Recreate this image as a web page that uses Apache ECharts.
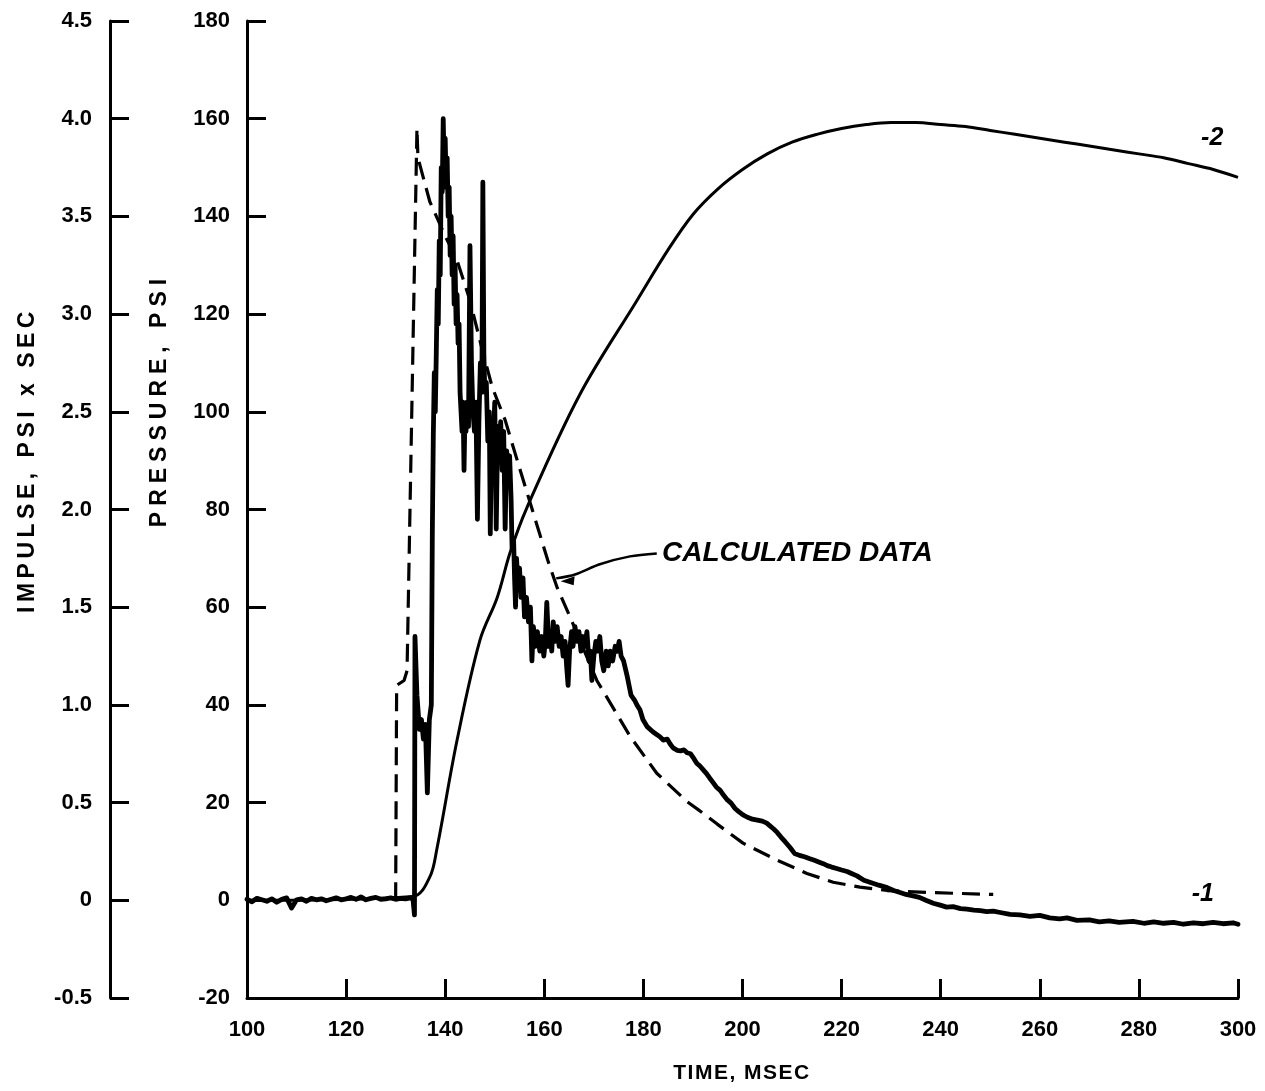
<!DOCTYPE html>
<html>
<head>
<meta charset="utf-8">
<script src="https://cdn.jsdelivr.net/npm/echarts@6/dist/echarts.min.js"></script>
<style>
html,body{margin:0;padding:0;background:#fff;}
#chart{width:1265px;height:1091px;}
</style>
</head>
<body>
<div id="chart"></div>
<script>
// ---- axis ticks ----
const timeTicks = [100,120,140,160,180,200,220,240,260,280,300];
const pressureTicks = [-20,0,20,40,60,80,100,120,140,160,180];
const impulseTicks = [-0.5,0,0.5,1.0,1.5,2.0,2.5,3.0,3.5,4.0,4.5];

// ---- axis titles and notes ----
const impulseTitle = 'IMPULSE, PSI x SEC';
const pressureTitle = 'PRESSURE, PSI';
const timeTitle = 'TIME, MSEC';
const calcNote = 'CALCULATED DATA';
const curve2Note = '-2';
const curve1Note = '-1';

// ---- measured pressure (psi) vs time (msec) ----
const measTime = [
100,101,102,103,104,105,106,107,108,109,110,111,112,113,114,115,116,117,118,119,
120,121,122,123,124,125,126,127,128,129,130,131,132,133,133.5,
133.8,133.9,134.3,134.8,135.2,135.6,136.0,136.4,136.8,137.2,137.4,137.6,137.8,138.0,138.2,138.4,
138.6,138.8,139.0,139.2,139.4,139.6,139.8,140.0,140.2,140.4,140.6,140.8,141.0,141.2,141.4,141.6,
141.8,142.0,142.2,142.4,142.6,142.8,143.0,143.2,143.4,143.6,143.8,144.0,144.2,144.4,144.7,145.0,
145.3,145.6,145.9,146.2,146.5,146.8,147.1,147.4,147.6,147.8,148.0,148.3,148.6,148.9,149.1,149.4,
149.7,150.0,150.3,150.6,150.9,151.2,151.5,151.8,152.1,152.4,152.7,153.0,153.3,153.5,153.8,154.0,
154.2,154.4,154.7,155.0,155.3,155.7,156.0,156.4,156.8,157.2,157.5,157.8,158.2,158.6,159.1,159.5,
159.9,160.2,160.5,160.9,161.2,161.5,161.8,162.2,162.6,163.0,163.4,163.8,164.2,164.5,164.8,165.1,
165.5,165.8,166.2,166.6,167.0,167.4,167.8,168.2,168.6,169.0,169.3,169.6,170.0,170.4,170.8,171.2,
171.6,172.0,172.5,172.9,173.3,173.8,174.3,174.7,175.1,175.5,176.0,176.7,177.5,178.2,178.7,179.3,
179.9,180.8,181.9,182.6,183.3,184.0,184.8,185.4,186.0,186.8,187.5,188.2,188.8,189.5,190.2,190.8,
191.4,192.0,192.7,193.4,194.0,194.7,195.5,196.2,196.9,197.7,198.5,199.3,200.1,201.0,202.0,203.0,
204.0,204.9,205.6,206.3,207.0,207.8,208.6,209.6,210.5,211.5,212.5,213.6,214.5,215.5,216.3,217.1,
218.0,219.0,220.0,221.1,222.0,223.1,224.5,226.0,227.5,229.2,230.5,231.8,233.0,234.4,235.7,237.0,
238.5,239.9,241.2,242.5,244.0,245.3,246.7,248.0,249.3,250.6,252.0,254.0,256.0,258.0,260.0,262.0,
264.0,265.5,267.5,270.0,272.0,274.0,276.0,278.8,281.0,283.0,285.0,287.0,289.0,291.0,293.0,295.0,
297.0,299.0,300.0
];
const measPressure = [
0.2,-0.3,0.4,0.1,-0.2,0.3,-0.4,0.2,0.5,-1.6,0.1,0.3,-0.2,0.4,0.1,0.3,-0.1,0.2,0.5,0.1,
0.3,0.6,0.2,0.7,0.1,0.4,0.6,0.2,0.3,0.5,0.2,0.4,0.3,0.5,0.2,
-3,54,42,35,37,33,36,22,37,40,75,95,108,100,112,125,
118,135,128,150,145,160,150,156,146,152,140,146,132,140,128,136,
122,130,118,124,114,118,104,100,96,102,88,100,96,102,97,134,
110,100,96,102,78,98,110,104,147,112,104,106,94,100,75,98,
94,102,76,97,93,98,88,96,76,92,88,91,82,72,74,66,
60,70,64,68,62,66,58,62,57,60,49,56,52,55,51,54,
50,53,61,52,55,51,57,53,56,52,54,50,53,48,44,51,
55,52,56,53,55,51,54,52,55,49,51,45,50,53,51,54,
49,47,51,48,51,49,52,51,53,50,49,46,42,41,40,39,
37,35.5,34.5,34,33.5,32.8,33,32,31.2,30.7,30.6,30.8,30.2,30,29,28,
27.5,26.8,26,25,24.2,23.2,22.5,21.5,20.6,19.9,18.8,18.1,17.5,17,16.6,16.4,
16.2,15.8,15.2,14.6,13.9,12.9,12,10.8,9.6,9.2,8.9,8.5,8.2,7.8,7.5,7.1,
6.8,6.5,6.2,5.9,5.5,5.0,4.1,3.6,3.1,2.6,2.0,1.6,1.2,0.9,0.6,0,
-0.6,-1.0,-1.4,-1.3,-1.7,-1.8,-2.0,-2.1,-2.3,-2.2,-2.5,-2.9,-3.0,-3.3,-3.1,-3.6,
-3.8,-3.6,-4.1,-4.0,-4.4,-4.2,-4.5,-4.3,-4.7,-4.4,-4.7,-4.5,-4.9,-4.6,-4.8,-4.5,
-4.8,-4.6,-4.9
];

// ---- calculated pressure (dashed) ----
const calcTime = [130,130.2,131.7,132.3,134.3,134.5,136.9,140,142.4,145,147.4,149.5,152.1,154.7,157.5,
  160.7,162.6,165.2,170.6,177.3,182.7,188.8,191.4,194.9,200.1,207.0,213.0,218.3,223.7,229.2,237.2,250.6];
const calcPressure = [0,44,45,47,158,152,143,136,131,122.8,113,105,98.3,89.5,80.2,
  69.6,64,58,45,33.6,26,20.2,18.3,15.6,11.7,8.2,5.5,3.7,2.7,2.0,1.6,1.2];

// ---- impulse (psi x sec) ----
const impTime = [100,133.5,136.9,138.3,142.4,147.0,150.5,153.1,156.5,167.2,178.7,185,190,195,200,205,210,215,220,225,
  230,235,240,245,250,255,260,265,270,275,280,285,290,295,300];
const impulse = [0,0.02,0.12,0.26,0.82,1.33,1.55,1.78,2.01,2.59,3.07,3.33,3.51,3.64,3.74,3.82,3.88,3.92,3.95,3.97,
  3.98,3.98,3.97,3.96,3.94,3.92,3.90,3.88,3.86,3.84,3.82,3.80,3.77,3.74,3.70];

// ---- annotation anchors (data coords: time, pressure) ----
const calcLabelAt = [183.75, 71.0];
const leaderLine = [[182.7,71.0],[177.3,70.4],[171.2,68.8],[166.2,66.7],[162.4,65.9]];
const arrowTipAt = [163.3, 65.3];
const label2At = [294.8, 156.0];
const label1At = [292.9, 1.2];

// letter spacing (px) of the original lettering of the axis titles
const titleSpacing = {};
titleSpacing[impulseTitle] = 4.5;
titleSpacing[pressureTitle] = 6;
titleSpacing[timeTitle] = 1.5;

(function () {
  const proto = CanvasRenderingContext2D.prototype;
  const orig = proto.fillText;
  function refreshFont(ctx) { const f = ctx.font; ctx.font = '10px serif'; ctx.font = f; }
  proto.fillText = function (t, x, y, w) {
    const call = () => (w === undefined ? orig.call(this, t, x, y) : orig.call(this, t, x, y, w));
    if (Object.prototype.hasOwnProperty.call(titleSpacing, t) && 'letterSpacing' in this) {
      this.letterSpacing = titleSpacing[t] + 'px';
      refreshFont(this);
      const r = call();
      this.letterSpacing = '0px';
      refreshFont(this);
      return r;
    }
    if ('letterSpacing' in this && this.letterSpacing !== '0px') {
      this.letterSpacing = '0px';
      refreshFont(this);
    }
    return call();
  };
})();

const zip = (a, b) => a.map((v, i) => [v, b[i]]);
const FONT = '"Liberation Sans", Arial, Helvetica, sans-serif';

const chart = echarts.init(document.getElementById('chart'), null, {renderer: 'canvas'});
const axisLine = {show: true, onZero: false, lineStyle: {color: '#000', width: 3}};
const tick = {show: true, inside: true, length: 19, lineStyle: {color: '#000', width: 3}};
const lab = {color: '#000', fontSize: 22, fontWeight: 'bold', fontFamily: FONT};

chart.setOption({
  animation: false,
  backgroundColor: '#fff',
  grid: {left: 247, right: 27, top: 21, bottom: 93, containLabel: false},
  xAxis: {
    type: 'value', min: timeTicks[0], max: timeTicks[timeTicks.length-1], interval: 20,
    axisLine: axisLine, axisTick: tick, splitLine: {show: false},
    axisLabel: Object.assign({margin: 21}, lab)
  },
  yAxis: [
    {
      type: 'value', position: 'left', min: pressureTicks[0], max: pressureTicks[pressureTicks.length-1], interval: 20,
      axisLine: axisLine, axisTick: tick, splitLine: {show: false},
      axisLabel: Object.assign({margin: 17}, lab)
    },
    {
      type: 'value', position: 'left', offset: 137, min: impulseTicks[0], max: impulseTicks[impulseTicks.length-1], interval: 0.5,
      axisLine: axisLine, axisTick: tick, splitLine: {show: false},
      axisLabel: Object.assign({margin: 18, formatter: v => v === 0 ? '0' : v.toFixed(1)}, lab)
    }
  ],
  series: [
    {
      name: 'impulse', type: 'line', yAxisIndex: 1, data: zip(impTime, impulse),
      smooth: 0.35, showSymbol: false, symbol: 'none',
      lineStyle: {color: '#000', width: 3}, z: 2
    },
    {
      name: 'calculated', type: 'line', yAxisIndex: 0, data: zip(calcTime, calcPressure),
      showSymbol: false, symbol: 'none', smooth: false,
      lineStyle: {color: '#000', width: 3.2, type: [18, 9]}, z: 3
    },
    {
      name: 'measured', type: 'line', yAxisIndex: 0, data: zip(measTime, measPressure),
      showSymbol: false, symbol: 'none',
      lineStyle: {color: '#000', width: 4.8, cap: 'round', join: 'round'}, z: 4
    }
  ]
});

const px = p => chart.convertToPixel({xAxisIndex: 0, yAxisIndex: 0}, p);
const lp = leaderLine.map(px);
const tip = px(arrowTipAt);
const c = px(calcLabelAt), l2 = px(label2At), l1 = px(label1At);
const mid = {align: 'center', verticalAlign: 'middle', textAlign: 'center', textVerticalAlign: 'middle', fill: '#000'};

chart.setOption({
  graphic: [
    {type: 'text', x: 28, y: 460, rotation: Math.PI/2,
      style: Object.assign({text: impulseTitle, font: 'bold 23px ' + FONT}, mid)},
    {type: 'text', x: 160, y: 400, rotation: Math.PI/2,
      style: Object.assign({text: pressureTitle, font: 'bold 23px ' + FONT}, mid)},
    {type: 'text', x: 742, y: 1073,
      style: Object.assign({text: timeTitle, font: 'bold 21px ' + FONT}, mid)},
    {type: 'text', x: c[0], y: c[1],
      style: {text: calcNote, font: 'italic bold 28px ' + FONT, fill: '#000', align: 'left', verticalAlign: 'middle', textAlign: 'left', textVerticalAlign: 'middle'}},
    {type: 'text', x: l2[0], y: l2[1],
      style: Object.assign({text: curve2Note, font: 'italic bold 25px ' + FONT}, mid)},
    {type: 'text', x: l1[0], y: l1[1],
      style: Object.assign({text: curve1Note, font: 'italic bold 25px ' + FONT}, mid)},
    {type: 'polyline', shape: {points: lp, smooth: 0.3}, style: {stroke: '#000', lineWidth: 2.5, fill: null}},
    {type: 'polygon', shape: {points: [tip, [tip[0]+14, tip[1]-5], [tip[0]+13, tip[1]+4]]}, style: {fill: '#000'}}
  ]
});
</script>
</body>
</html>
